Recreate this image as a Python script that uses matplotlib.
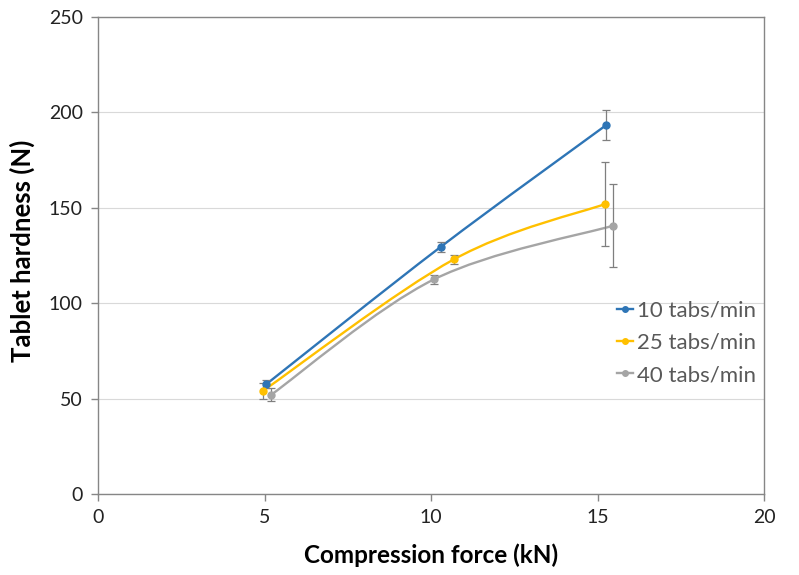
import matplotlib
matplotlib.use("Agg")
import matplotlib.pyplot as plt
from matplotlib.path import Path
from matplotlib.patches import PathPatch
from matplotlib.lines import Line2D

plt.rcParams['font.family'] = ['Lato', 'DejaVu Sans']

# data
series_labels = ['10 tabs/min', '25 tabs/min', '40 tabs/min']
force_10 = [5.05, 10.29, 15.25]
hard_10 = [57.5, 129.5, 193.2]
err_10 = [2.0, 2.6, 7.9]
force_25 = [4.95, 10.69, 15.23]
hard_25 = [54.0, 123.0, 152.0]
err_25 = [4.0, 2.5, 21.9]
force_40 = [5.2, 10.09, 15.48]
hard_40 = [52.0, 112.5, 140.7]
err_40 = [3.5, 2.5, 21.7]
colors = ['#2E75B6', '#FFC000', '#A5A5A5']
x_ticks = [0, 5, 10, 15, 20]
y_ticks = [0, 50, 100, 150, 200, 250]


def smooth_path(xs, ys):
    # Excel-style smoothed line: cubic bezier through the points
    pts = list(zip(xs, ys))
    verts = [pts[0]]
    codes = [Path.MOVETO]
    n = len(pts)
    for i in range(n - 1):
        p0 = pts[i - 1] if i > 0 else pts[i]
        p1 = pts[i]
        p2 = pts[i + 1]
        p3 = pts[i + 2] if i + 2 < n else pts[i + 1]
        c1 = (p1[0] + (p2[0] - p0[0]) / 6, p1[1] + (p2[1] - p0[1]) / 6)
        c2 = (p2[0] - (p3[0] - p1[0]) / 6, p2[1] - (p3[1] - p1[1]) / 6)
        verts += [c1, c2, p2]
        codes += [Path.CURVE4] * 3
    return Path(verts, codes)


fig = plt.figure(figsize=(7.99, 5.75), dpi=100)
ax = fig.add_axes([98 / 799, 1 - 494 / 575, 666 / 799, 477 / 575])

all_series = [(force_10, hard_10, err_10), (force_25, hard_25, err_25), (force_40, hard_40, err_40)]
handles = []
for (xs, ys, es), c, lab in zip(all_series, colors, series_labels):
    ax.add_patch(PathPatch(smooth_path(xs, ys), fill=False, edgecolor=c, lw=1.7, zorder=3))
    ax.errorbar(xs, ys, yerr=es, fmt='none', ecolor='#7f7f7f', elinewidth=0.9,
                capsize=3, capthick=0.9, zorder=4)
    ax.plot(xs, ys, 'o', color=c, ms=5, zorder=5)
    handles.append(Line2D([0], [0], color=c, lw=1.7, marker='o', ms=4))

ax.set_xlim(0, 20)
ax.set_ylim(0, 250)
ax.set_xticks(x_ticks)
ax.set_yticks(y_ticks)
ax.yaxis.grid(True, color='#d9d9d9', lw=0.8)
ax.set_axisbelow(True)
for s in ax.spines.values():
    s.set_color('#868686')
    s.set_linewidth(1.0)
ax.tick_params(direction='out', length=5, width=1.0, color='#868686',
               labelsize=14, labelcolor='#222222', pad=6)

ax.set_xlabel('Compression force (kN)', fontsize=17.5, fontweight='bold', labelpad=12)
ax.set_ylabel('Tablet hardness (N)', fontsize=18.5, fontweight='bold')
ax.yaxis.set_label_coords(-0.095, 0.51)

ax.legend(handles, series_labels, loc='center left', bbox_to_anchor=(0.779, 0.317),
          frameon=False, fontsize=16, labelcolor='#595959', handlelength=0.75,
          handletextpad=0.15, labelspacing=0.55, borderpad=0, borderaxespad=0)

fig.savefig('out.png', dpi=100)
